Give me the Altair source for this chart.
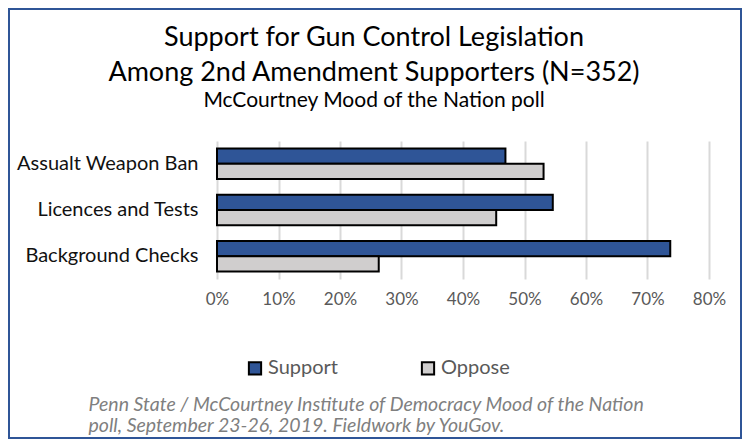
import altair as alt
import pandas as pd

categories = ["Assualt Weapon Ban", "Licences and Tests", "Background Checks"]
series = ["Support", "Oppose"]
support = [46.9, 54.6, 73.7]
oppose = [53.1, 45.4, 26.3]
tick_values = [0, 0.1, 0.2, 0.3, 0.4, 0.5, 0.6, 0.7, 0.8]
colors = ["#2F5597", "#D0CECE"]

title_lines = ["Support for Gun Control Legislation", "Among 2nd Amendment Supporters (N=352)"]
subtitle = "McCourtney Mood of the Nation poll"
footer = ["Penn State / McCourtney Institute of Democracy Mood of the Nation",
          "poll, September 23-26, 2019.  Fieldwork by YouGov."]

rows = []
for c, s, o in zip(categories, support, oppose):
    rows.append({"category": c, "series": "Support", "value": s / 100})
    rows.append({"category": c, "series": "Oppose", "value": o / 100})
df = pd.DataFrame(rows)

FONT = "Lato"

bars = alt.Chart(df).mark_bar(stroke="black", strokeWidth=2).encode(
    y=alt.Y("category:N", sort=categories,
            scale=alt.Scale(paddingInner=0.34, paddingOuter=0.165),
            axis=alt.Axis(title=None, ticks=False, domain=False, labelFontSize=20,
                          labelColor="#111111", labelPadding=19, labelFont=FONT,
                          labelLimit=300)),
    yOffset=alt.YOffset("series:N", sort=series, scale=alt.Scale(paddingInner=0, paddingOuter=0)),
    x=alt.X("value:Q", scale=alt.Scale(domain=[0, 0.8], nice=False),
            axis=alt.Axis(values=tick_values, format=".0%", ticks=False, domain=False,
                          grid=True, gridColor="#D9D9D9", gridWidth=2,
                          labelFontSize=17, labelColor="#595959", labelPadding=12,
                          labelFont=FONT, labelFlush=False,
                          title=footer, titleFont=FONT, titleFontSize=19.5,
                          titleFontStyle="italic", titleFontWeight="normal",
                          titleColor="#7F7F7F", titleAnchor="start", titleAlign="left",
                          titleBaseline="top", titleX=-129, titleY=116,
                          titleLineHeight=21)),
    color=alt.Color("series:N", sort=series,
                    scale=alt.Scale(domain=series, range=colors),
                    legend=alt.Legend(title=None, orient="none", direction="horizontal",
                                      legendX=28, legendY=217, symbolType="square",
                                      symbolSize=150, symbolStrokeColor="black",
                                      symbolStrokeWidth=2, labelFontSize=20,
                                      labelColor="#595959", labelFont=FONT,
                                      columnPadding=78, labelOffset=3)),
)

border = alt.Chart(pd.DataFrame({"b": [0]})).mark_rect(
    fill=None, stroke="#2F5597", strokeWidth=2
).encode(x=alt.value(-208), x2=alt.value(524), y=alt.value(-132), y2=alt.value(297))

chart = alt.layer(bars, border).properties(
    width=492, height=138,
    padding={"left": 209, "top": 133, "right": 33, "bottom": 160},
    autosize=alt.AutoSizeParams(type="none"),
    title=alt.TitleParams(text=title_lines, subtitle=subtitle, font=FONT, fontSize=27,
                          fontWeight="normal", color="#000000", lineHeight=35,
                          subtitleFont=FONT, subtitleFontSize=21, subtitleColor="#000000",
                          subtitlePadding=3, anchor="middle", frame="group", dx=-89,
                          offset=-104),
).configure_view(stroke=None)

chart.save("out.html", embed_options={"renderer": "svg", "actions": False})
